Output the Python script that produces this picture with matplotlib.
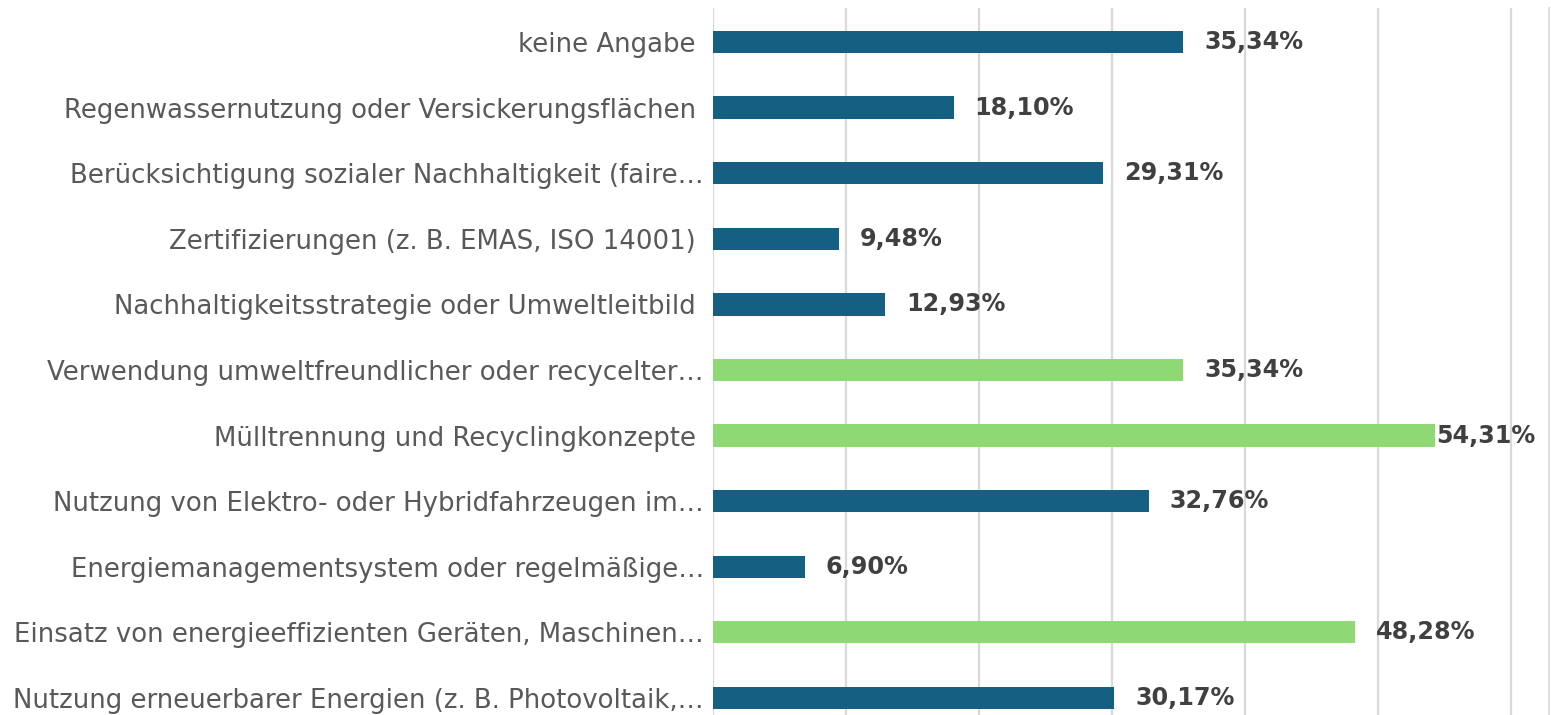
import matplotlib.pyplot as plt
from matplotlib.transforms import offset_copy

categories = [
    "keine Angabe ",
    "Regenwassernutzung oder Versickerungsflächen ",
    "Berücksichtigung sozialer Nachhaltigkeit (faire…",
    "Zertifizierungen (z. B. EMAS, ISO 14001) ",
    "Nachhaltigkeitsstrategie oder Umweltleitbild ",
    "Verwendung umweltfreundlicher oder recycelter…",
    "Mülltrennung und Recyclingkonzepte ",
    "Nutzung von Elektro- oder Hybridfahrzeugen im…",
    "Energiemanagementsystem oder regelmäßige…",
    "Einsatz von energieeffizienten Geräten, Maschinen…",
    "Nutzung erneuerbarer Energien (z. B. Photovoltaik,…",
]
values = [35.34, 18.10, 29.31, 9.48, 12.93, 35.34, 54.31, 32.76, 6.90, 48.28, 30.17]
highlight = [False, False, False, False, False, True, True, False, False, True, False]

blue = "#156082"
green = "#8ED973"
colors = [green if h else blue for h in highlight]

plt.rcParams['font.family'] = ['DejaVu Sans']

fig = plt.figure(figsize=(15.51, 7.15), dpi=100)
ax = fig.add_axes([713 / 1551, 0, 836 / 1551, 707 / 715])

y = list(range(len(categories)))
ax.barh(y, values, height=0.34, color=colors, zorder=3)

ax.set_xlim(0, 62.86)
ax.set_ylim(10.26, -0.518)
ax.set_xticks(range(0, 61, 10))
ax.xaxis.grid(True, color="#D9D9D9", linewidth=1.6, zorder=0)
ax.tick_params(axis="x", bottom=False, labelbottom=False)
ax.tick_params(axis="y", left=False, pad=3, labelsize=18.7, labelcolor="#595959")
ax.set_yticks(y)
ax.set_yticklabels(categories)
for s in ["top", "bottom", "left"]:
    ax.spines[s].set_visible(False)
ax.spines["right"].set_color("#D9D9D9")
ax.spines["right"].set_linewidth(1.2)

for i, v in enumerate(values):
    label = f"{v:.2f}%".replace(".", ",")
    gap = 1 if v > 52 else 21
    tr = offset_copy(ax.transData, fig=fig, x=gap * 72 / 100, y=0, units="points")
    ax.text(v, i, label, transform=tr, va="center", ha="left",
            fontsize=17.2, fontweight="bold", color="#404040", zorder=4)

plt.savefig("out.png", dpi=100)
